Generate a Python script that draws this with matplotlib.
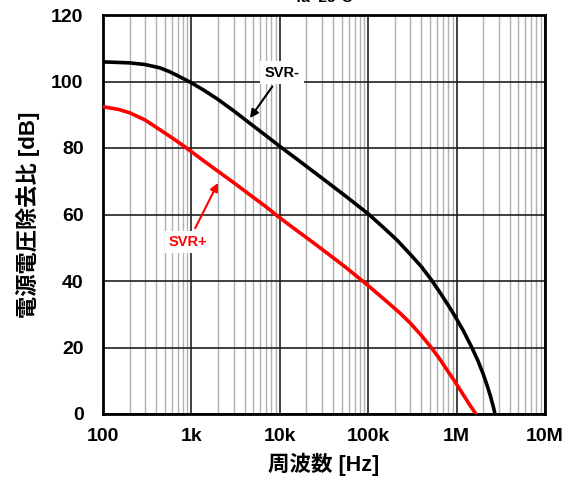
import matplotlib
matplotlib.use("Agg")
import matplotlib.pyplot as plt
from matplotlib.ticker import FixedLocator, NullFormatter

# SVR- (black) and SVR+ (red), dB vs Hz
freq_minus = [100, 200, 300, 440, 550, 680, 820, 1e3, 1.4e3, 2e3, 3e3, 4.6e3,
              7e3, 1e4, 1.5e4, 2.4e4, 3.5e4, 5.7e4, 1e5, 1.5e5, 2.1e5, 3e5,
              4e5, 5.2e5, 6.5e5, 8e5, 9.6e5, 1.2e6, 1.5e6, 1.75e6, 2e6, 2.2e6,
              2.4e6, 2.6e6, 2.72e6]
svr_minus = [105.9, 105.6, 105.1, 104.1, 103.1, 101.9, 100.8, 99.6, 97.3,
             94.6, 91.2, 87.4, 83.7, 80.5, 77.0, 72.9, 69.6, 65.3, 60.2, 56.0,
             52.4, 48.0, 44.3, 40.3, 36.5, 32.8, 29.4, 24.9, 19.8, 15.9, 12.0,
             8.8, 5.6, 2.2, 0.0]

freq_plus = [100, 150, 200, 300, 440, 550, 680, 820, 1e3, 1.4e3, 2e3, 3e3, 4.6e3,
             7e3, 1e4, 1.5e4, 2.4e4, 3.5e4, 5.7e4, 1e5, 1.5e5, 2.3e5, 3e5, 4e5,
             5.2e5, 6.5e5, 8e5, 9.6e5, 1.1e6, 1.3e6, 1.45e6, 1.58e6, 1.65e6]
svr_plus = [92.4, 91.6, 90.6, 88.4, 85.5, 83.8, 82.1, 80.6, 78.9, 76.0, 73.0,
            69.6, 65.9, 62.3, 59.0, 55.5, 51.5, 48.2, 43.9, 38.6, 34.6, 30.3,
            27.3, 23.6, 19.9, 16.4, 12.8, 9.7, 7.2, 4.2, 2.2, 0.8, 0.0]

x_ticks = [1e2, 1e3, 1e4, 1e5, 1e6, 1e7]
x_labels = ["100", "1k", "10k", "100k", "1M", "10M"]
y_ticks = [0, 20, 40, 60, 80, 100, 120]

plt.rcParams["font.family"] = ["Liberation Sans", "Noto Sans CJK JP", "DejaVu Sans"]
plt.rcParams["font.weight"] = "bold"

fig = plt.figure(figsize=(5.7, 4.87), dpi=100)
ax = fig.add_axes([103 / 570, 1 - 414 / 487, 442 / 570, 399 / 487])

ax.set_xscale("log")
ax.set_xlim(1e2, 1e7)
ax.set_ylim(0, 120)

minor = [m * 10 ** e for e in range(2, 7) for m in range(2, 10)]
ax.xaxis.set_major_locator(FixedLocator(x_ticks))
ax.xaxis.set_minor_locator(FixedLocator(minor))
ax.xaxis.set_minor_formatter(NullFormatter())
ax.set_xticklabels(x_labels)
ax.set_yticks(y_ticks)

ax.grid(True, which="minor", axis="x", color="#b0b0b0", lw=1.0)
ax.grid(True, which="major", axis="x", color="#202020", lw=1.2)
ax.grid(True, which="major", axis="y", color="#202020", lw=1.2)
ax.tick_params(which="both", length=0, labelsize=14)
ax.tick_params(axis="x", pad=10)
ax.tick_params(axis="y", pad=14)
for s in ax.spines.values():
    s.set_linewidth(2.0)

ax.plot(freq_minus, svr_minus, color="black", lw=2.6, zorder=3)
ax.plot(freq_plus, svr_plus, color="#ff0000", lw=2.6, zorder=3)

ax.annotate("SVR-", xy=(4.6e3, 89), xytext=(10.6e3, 102.6), fontsize=10.5,
            fontweight="bold", color="black", ha="center", va="center",
            bbox=dict(boxstyle="square,pad=0.3", fc="white", ec="none"),
            arrowprops=dict(arrowstyle="-|>", color="black", lw=1.5,
                            shrinkA=2, shrinkB=0, mutation_scale=12), zorder=4)
ax.annotate("SVR+", xy=(2.0e3, 69.5), xytext=(0.92e3, 51.7), fontsize=10.5,
            fontweight="bold", color="#ff0000", ha="center", va="center",
            bbox=dict(boxstyle="square,pad=0.3", fc="white", ec="none"),
            arrowprops=dict(arrowstyle="-|>", color="#ff0000", lw=1.5,
                            shrinkA=2, shrinkB=0, mutation_scale=12), zorder=4)

ax.set_xlabel("周波数 [Hz]", fontsize=15.5, fontweight="bold", labelpad=6)
ax.set_ylabel("電源電圧除去比 [dB]", fontsize=16, fontweight="bold", labelpad=8)

fig.text(0.567, 1 - 5 / 487, "Ta=25°C", fontsize=11, fontweight="bold",
         ha="center", va="bottom")

fig.savefig("out.png", dpi=100)
